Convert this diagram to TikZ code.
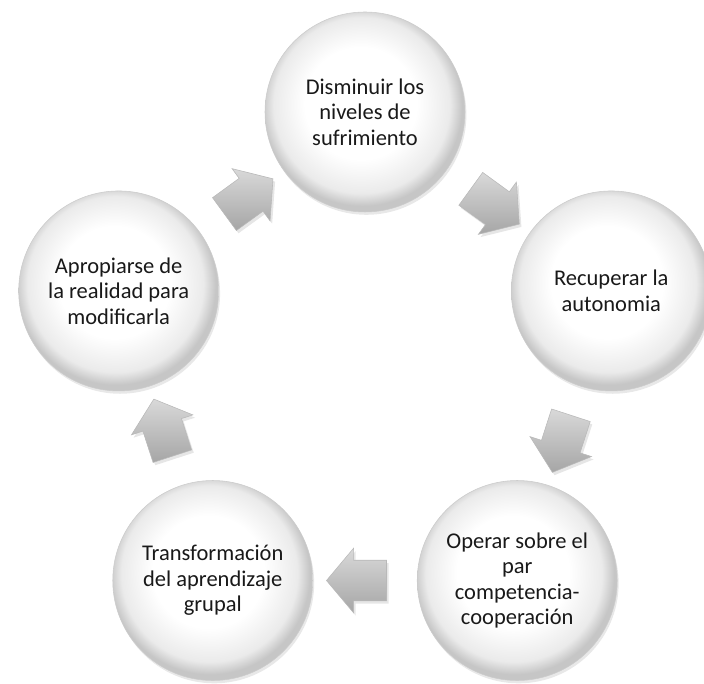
\documentclass[tikz,border=0pt]{standalone}
\usepackage{fontspec}
\setmainfont{Carlito}
\usetikzlibrary{shapes.arrows,shadows,calc}

\pgfdeclareradialshading{bevel}{\pgfpoint{-1.5bp}{3bp}}{color(0bp)=(white); color(14bp)=(white); color(22bp)=(gray!16); color(25bp)=(gray!45); color(50bp)=(gray!45)}
\tikzset{
	stage/.style={circle,minimum size=5cm,inner sep=0pt,align=center,
		shade,shading=bevel,draw=gray!40,thin,text=black!90,
		font=\fontsize{16}{18.2}\selectfont,
		drop shadow={opacity=.18,shadow xshift=1pt,shadow yshift=-2pt}},
	turn/.style={single arrow,minimum height=1.5cm,minimum width=1.6cm,
		single arrow head extend=.3cm,single arrow tip angle=100,
		inner xsep=0pt,inner ysep=.5cm,
		top color=gray!30,bottom color=gray!70,draw=gray!55,thin,
		drop shadow={opacity=.2,shadow xshift=1.5pt,shadow yshift=-2pt}}
}

\begin{document}
\begin{tikzpicture}
	\useasboundingbox (0,0) rectangle (17.6,17.1);
	
	%circles
	\node[stage] (sufrir)    at (9.125,14.3)   {Disminuir los\\niveles de\\sufrimiento};
	\node[stage] (autonomia) at (15.283,9.826) {Recuperar la\\autonomia};
	\node[stage] (par)       at (12.931,2.587) {Operar sobre el\\par\\competencia-\\cooperación};
	\node[stage] (grupo)     at (5.319,2.587)  {Transformación\\del aprendizaje\\grupal};
	\node[stage] (realidad)  at (2.967,9.826)  {Apropiarse de\\la realidad para\\modificarla};
	
	%arrows
	\node[turn,rotate=-36]  (a1) at ($(sufrir)!.5!(autonomia)$) {};
	\node[turn,rotate=-108] (a2) at ($(autonomia)!.5!(par)$)    {};
	\node[turn,rotate=180]  (a3) at ($(par)!.5!(grupo)$)        {};
	\node[turn,rotate=108]  (a4) at ($(grupo)!.5!(realidad)$)   {};
	\node[turn,rotate=36]   (a5) at ($(realidad)!.5!(sufrir)$)  {};
\end{tikzpicture}
\end{document}
